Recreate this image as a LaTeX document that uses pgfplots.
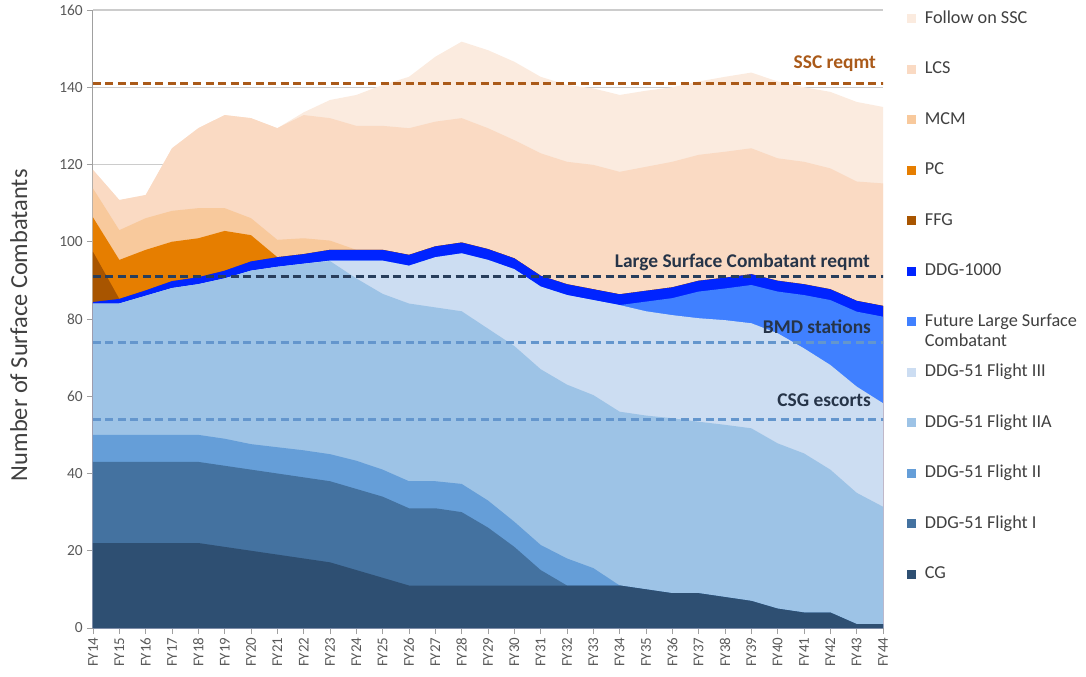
\documentclass[border=0pt]{standalone}
\usepackage{pgfplots}
\pgfplotsset{compat=1.18}
\usepackage{pgfplotstable}
\usepackage{fontspec}
\setmainfont{Carlito}

\definecolor{cssc}{RGB}{251,235,223}
\definecolor{clcs}{RGB}{250,218,195}
\definecolor{cmcm}{RGB}{248,201,156}
\definecolor{cpc}{RGB}{230,126,0}
\definecolor{cffg}{RGB}{168,85,0}
\definecolor{cddg}{RGB}{0,36,255}
\definecolor{cflsc}{RGB}{64,128,255}
\definecolor{cfiii}{RGB}{204,221,242}
\definecolor{cfiia}{RGB}{157,195,230}
\definecolor{cfii}{RGB}{101,158,216}
\definecolor{cfi}{RGB}{68,114,160}
\definecolor{ccg}{RGB}{46,79,114}
\definecolor{tickgray}{RGB}{89,89,89}
\definecolor{axisgray}{RGB}{160,160,160}
\definecolor{gridgray}{RGB}{204,204,204}
\definecolor{txtdark}{RGB}{64,64,64}
\definecolor{sscbrown}{RGB}{170,90,25}
\definecolor{lscnavy}{RGB}{40,62,92}
\definecolor{bmdblue}{RGB}{100,150,205}
\definecolor{lbldark}{RGB}{38,52,72}

% cumulative stack tops, bottom (C1 = CG) to top (C12 = Follow on SSC)
\pgfplotstableread{
year C1 C2 C3 C4 C5 C6 C7 C8 C9 C10 C11 C12
14 22 43 50 84 84 84 84.4 97.4 106.3 113.8 118.6 118.6
15 22 43 50 84 84 84 85.2 85.2 95.3 103.0 110.8 110.8
16 22 43 50 86 86 86 87.4 87.4 97.9 106.1 112.1 112.1
17 22 43 50 88 88 88 89.8 89.8 100.0 108.0 124.2 124.2
18 22 43 50 89 89 89 90.8 90.8 100.9 108.7 129.4 129.4
19 21 42 49 90.5 90.5 90.5 92.5 92.5 102.8 108.7 132.8 132.8
20 20 41 47.6 92.5 92.5 92.5 94.9 94.9 101.7 106.1 132.0 132.0
21 19 40 46.8 93.5 93.5 93.5 96.0 96.0 96.0 100.5 129.4 129.4
22 18 39 46 94.3 94.3 94.3 96.8 96.8 96.8 100.9 132.8 133.5
23 17 38 45 95 95.1 95.1 97.9 97.9 97.9 100.3 132.0 136.7
24 15 36 43.3 90.5 95.1 95.1 97.9 97.9 97.9 97.9 130.0 138.0
25 13 34 41 86.5 95.1 95.1 97.9 97.9 97.9 97.9 130.0 140.6
26 11 31 38 84 93.8 93.8 96.6 96.6 96.6 96.6 129.4 142.7
27 11 31 38 83 96 96 98.8 98.8 98.8 98.8 131.1 147.9
28 11 30 37.3 82 97 97 99.8 99.8 99.8 99.8 132.0 151.8
29 11 26 33 77.5 95.3 95.3 98.1 98.1 98.1 98.1 129.4 149.6
30 11 21 27.5 73 92.9 92.9 95.7 95.7 95.7 95.7 126.3 146.6
31 11 15 21.5 67 88.4 88.4 91.2 91.2 91.2 91.2 122.9 142.7
32 11 11 18 63 86.2 86.2 89.0 89.0 89.0 89.0 120.7 140.6
33 11 11 15.5 60.3 84.9 84.9 87.7 87.7 87.7 87.7 119.9 139.7
34 11 11 11 56 83.6 83.6 86.4 86.4 86.4 86.4 118.1 138.0
35 10 10 10 55 82 84.5 87.3 87.3 87.3 87.3 119.4 139.1
36 9 9 9 54.3 81 85.4 88.2 88.2 88.2 88.2 120.7 140.0
37 9 9 9 53.4 80.2 87.1 89.9 89.9 89.9 89.9 122.5 141.5
38 8 8 8 52.6 79.7 87.9 90.7 90.7 90.7 90.7 123.3 142.7
39 7 7 7 51.7 78.9 88.8 91.6 91.6 91.6 91.6 124.2 143.8
40 5 5 5 47.8 76.3 87.1 89.9 89.9 89.9 89.9 121.6 141.5
41 4 4 4 45.2 72.4 86.2 89.0 89.0 89.0 89.0 120.7 140.0
42 4 4 4 41 68.1 84.9 87.7 87.7 87.7 87.7 119.0 138.8
43 1 1 1 35 62.5 81.9 84.7 84.7 84.7 84.7 115.6 136.2
44 1 1 1 31.4 58.2 80.6 83.4 83.4 83.4 83.4 115.1 134.9
}\data

\begin{document}
\begin{tikzpicture}
\begin{axis}[
  at={(0,0)}, anchor=south west,
  scale only axis, width=790bp, height=618bp,
  xmin=14, xmax=44, ymin=0, ymax=160,
  xtick={14,...,44},
  xticklabels={FY14,FY15,FY16,FY17,FY18,FY19,FY20,FY21,FY22,FY23,FY24,FY25,FY26,FY27,FY28,FY29,FY30,FY31,FY32,FY33,FY34,FY35,FY36,FY37,FY38,FY39,FY40,FY41,FY42,FY43,FY44},
  x tick label style={rotate=90, anchor=east, font=\fontsize{15}{17}\selectfont, text=tickgray, inner sep=3.5bp},
  ytick={0,20,...,160},
  y tick label style={font=\fontsize{15.5}{17}\selectfont, text=tickgray, inner sep=4bp},
  /pgf/number format/assume math mode=true,
  axis x line*=bottom, axis y line*=left,
  axis line style={draw=axisgray, line width=1bp, -},
  tick style={draw=axisgray, line width=0.9bp},
  tick align=outside,
  major tick length=6bp,
  ymajorgrids, grid style={draw=gridgray, line width=1.3bp},
  ylabel={Number of Surface Combatants},
  ylabel style={at={(axis description cs:-0.094,0.49)}, anchor=center, font=\fontsize{24.5}{28}\selectfont, text=txtdark},
  legend image code/.code={\path[#1] (0bp,-4.5bp) rectangle (9bp,4.5bp);},
  legend style={draw=none, fill=none, at={(1.03,0.998)}, anchor=north west,
    inner sep=0pt, row sep=35.5bp, font=\fontsize{18.3}{20.5}\selectfont, text=txtdark,
    nodes={inner sep=0pt, text height=12bp, text depth=3bp},
    /tikz/every odd column/.style={column sep=9bp}},
  legend cell align=left,
]
\addplot[fill=cssc, draw=none] table[x=year, y=C12] {\data} \closedcycle;
\addlegendentry{Follow on SSC}
\addplot[fill=clcs, draw=none] table[x=year, y=C11] {\data} \closedcycle;
\addlegendentry{LCS}
\addplot[fill=cmcm, draw=none] table[x=year, y=C10] {\data} \closedcycle;
\addlegendentry{MCM}
\addplot[fill=cpc, draw=none] table[x=year, y=C9] {\data} \closedcycle;
\addlegendentry{PC}
\addplot[fill=cffg, draw=none] table[x=year, y=C8] {\data} \closedcycle;
\addlegendentry{FFG}
\addplot[fill=cddg, draw=none] table[x=year, y=C7] {\data} \closedcycle;
\addlegendentry{DDG-1000}
\addplot[fill=cflsc, draw=none] table[x=year, y=C6] {\data} \closedcycle;
\addlegendentry{\smash{\begin{tabular}[t]{@{}l@{}}Future Large Surface\\Combatant\end{tabular}}}
\addplot[fill=cfiii, draw=none] table[x=year, y=C5] {\data} \closedcycle;
\addlegendentry{DDG-51 Flight III}
\addplot[fill=cfiia, draw=none] table[x=year, y=C4] {\data} \closedcycle;
\addlegendentry{DDG-51 Flight IIA}
\addplot[fill=cfii, draw=none] table[x=year, y=C3] {\data} \closedcycle;
\addlegendentry{DDG-51 Flight II}
\addplot[fill=cfi, draw=none] table[x=year, y=C2] {\data} \closedcycle;
\addlegendentry{DDG-51 Flight I}
\addplot[fill=ccg, draw=none] table[x=year, y=C1] {\data} \closedcycle;
\addlegendentry{CG}

% requirement lines
\addplot[forget plot, sscbrown, line width=3.2bp, dash pattern=on 8bp off 4.5bp] coordinates {(14,141) (44.2,141)};
\addplot[forget plot, lscnavy, line width=3.2bp, dash pattern=on 8bp off 4.5bp] coordinates {(14,91) (44.2,91)};
\addplot[forget plot, bmdblue, line width=3.2bp, dash pattern=on 8bp off 4.5bp] coordinates {(14,74) (44.2,74)};
\addplot[forget plot, bmdblue, line width=3.2bp, dash pattern=on 8bp off 4.5bp] coordinates {(14,54) (44.2,54)};

\node[anchor=east, inner sep=0pt, font=\bfseries\fontsize{19.5}{22}\selectfont, text=sscbrown] at (axis cs:43.74,146) {SSC reqmt};
\node[anchor=east, inner sep=0pt, font=\bfseries\fontsize{19.5}{22}\selectfont, text=lbldark] at (axis cs:43.51,94.8) {Large Surface Combatant reqmt};
\node[anchor=east, inner sep=0pt, font=\bfseries\fontsize{19.5}{22}\selectfont, text=lbldark] at (axis cs:43.55,77.9) {BMD stations};
\node[anchor=east, inner sep=0pt, font=\bfseries\fontsize{19.5}{22}\selectfont, text=lbldark] at (axis cs:43.55,59.0) {CSG escorts};
\end{axis}
\pgfresetboundingbox
\path (-93bp,-49bp) rectangle (993bp,628bp);
\end{tikzpicture}
\end{document}
